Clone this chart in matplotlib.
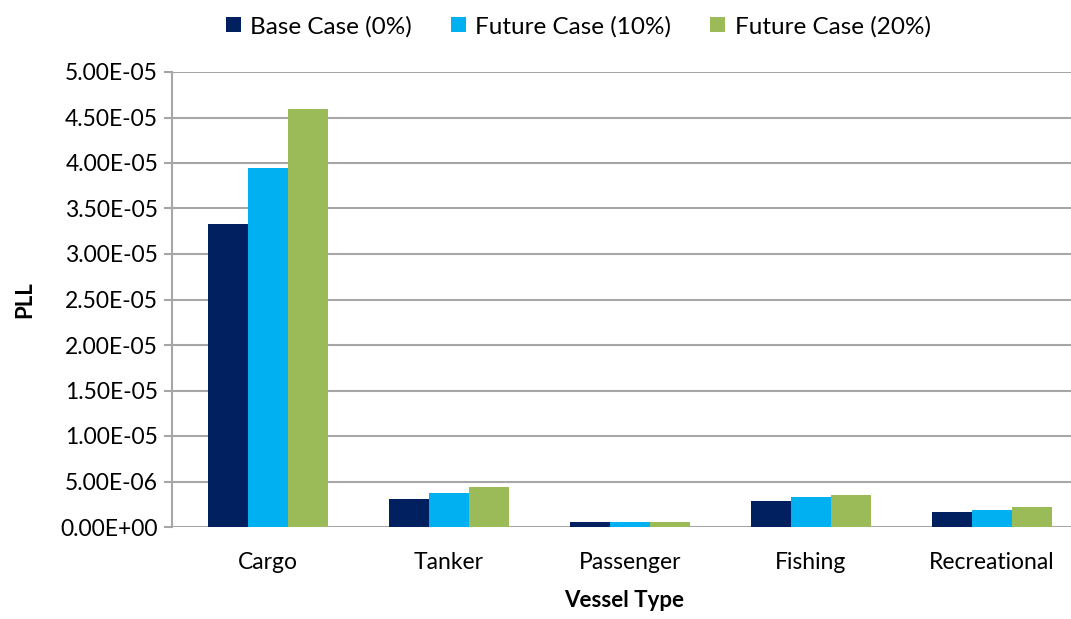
import numpy as np
import matplotlib.pyplot as plt
from matplotlib.ticker import FuncFormatter

plt.rcParams['font.family'] = ['Lato', 'DejaVu Sans']

vessel_types = ['Cargo', 'Tanker', 'Passenger', 'Fishing', 'Recreational']
base_case = [3.33e-5, 3.1e-6, 5.3e-7, 2.9e-6, 1.65e-6]
future_10 = [3.94e-5, 3.76e-6, 5.3e-7, 3.3e-6, 1.83e-6]
future_20 = [4.59e-5, 4.4e-6, 5.3e-7, 3.54e-6, 2.24e-6]
series_names = ['Base Case (0%)', 'Future Case (10%)', 'Future Case (20%)']
colors = ['#002060', '#00b0f0', '#9bbb59']

fig = plt.figure(figsize=(10.71, 6.19), dpi=100)
ax = fig.add_axes([172 / 1071, 1 - 527 / 619, 905 / 1071, 455 / 619])

x = np.arange(len(vessel_types))
w = 0.222
for i, (vals, name, c) in enumerate(zip([base_case, future_10, future_20], series_names, colors)):
    ax.bar(x + (i - 1) * w, vals, w, color=c, label=name, zorder=3)

ax.set_xlim(-0.53, len(vessel_types) - 0.53)
ax.set_ylim(0, 5e-5)
ax.set_yticks(np.arange(0, 5.01e-5, 5e-6))
ax.yaxis.set_major_formatter(FuncFormatter(lambda v, p: f'{v:.2E}' if v else '0.00E+00'))
ax.grid(axis='y', color='#a6a6a6', linewidth=1.5, zorder=0)
for s in ['top', 'right', 'bottom']:
    ax.spines[s].set_visible(False)
ax.spines['left'].set_color('#a6a6a6')
ax.spines['left'].set_linewidth(1.5)
ax.tick_params(axis='y', length=6, color='#a6a6a6', width=1.5, labelsize=16.5, pad=4)
ax.tick_params(axis='x', length=0, labelsize=16.5, pad=18)
ax.set_xticks(x)
ax.set_xticklabels(vessel_types)
ax.set_xlabel('Vessel Type', fontsize=16, fontweight='bold', labelpad=12)
ax.set_ylabel('PLL', fontsize=16, fontweight='bold', labelpad=18)

fig.legend(loc='upper center', bbox_to_anchor=(0.54, 1.01), ncol=3, frameon=False,
           fontsize=17.5, handlelength=0.6, handleheight=0.6, handletextpad=0.4, columnspacing=1.6)

fig.savefig('out.png', dpi=100)
